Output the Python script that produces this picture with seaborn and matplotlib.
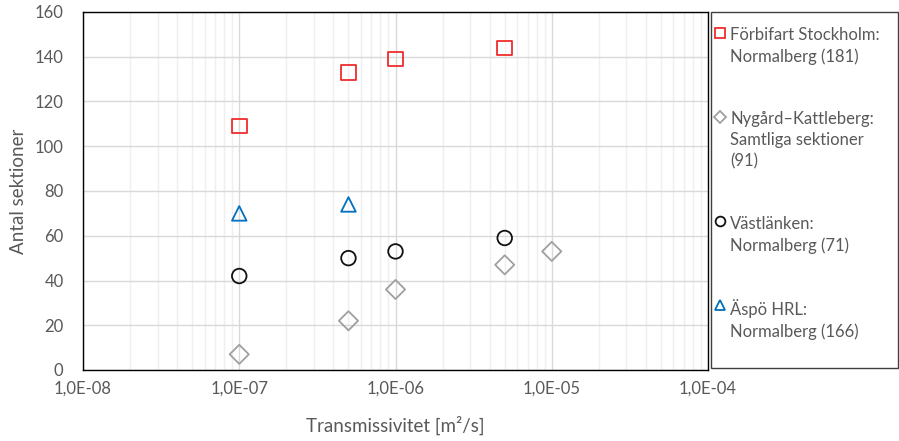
import numpy as np
import pandas as pd
import seaborn as sns
import matplotlib.pyplot as plt
from matplotlib.lines import Line2D
from matplotlib.patches import Rectangle
from matplotlib.ticker import FuncFormatter, LogLocator, MultipleLocator

# Data
forbifart_x = [1e-7, 5e-7, 1e-6, 5e-6]
forbifart_y = [109, 133, 139, 144]

nygard_x = [1e-7, 5e-7, 1e-6, 5e-6, 1e-5]
nygard_y = [7, 22, 36, 47, 53]

vastlanken_x = [1e-7, 5e-7, 1e-6, 5e-6]
vastlanken_y = [42, 50, 53, 59]

aspo_x = [1e-7, 5e-7]
aspo_y = [70, 74]

labels = [
    "Förbifart Stockholm:\nNormalberg (181)",
    "Nygård\u2013Kattleberg:\nSamtliga sektioner\n(91)",
    "Västlänken:\nNormalberg (71)",
    "Äspö HRL:\nNormalberg (166)",
]

series = [
    (forbifart_x, forbifart_y, "s", "#EE2D2D", 110),
    (nygard_x, nygard_y, "D", "#A0A0A0", 95),
    (vastlanken_x, vastlanken_y, "o", "#111111", 110),
    (aspo_x, aspo_y, "^", "#0070C0", 110),
]

sns.set_theme(style="white")
plt.rcParams["font.family"] = ["Lato", "DejaVu Sans"]
text_col = "#595959"

fig = plt.figure(figsize=(8.99, 4.41), dpi=100)
ax = fig.add_axes([83 / 899, 71 / 441, 625 / 899, 358 / 441])

for xs, ys, m, c, s in series:
    df = pd.DataFrame({"x": xs, "y": ys})
    sns.scatterplot(data=df, x="x", y="y", marker=m, s=s, facecolor="none",
                    edgecolor=c, linewidth=1.3, ax=ax, zorder=3)

ax.set_xscale("log")
ax.set_xlim(1e-8, 1e-4)
ax.set_ylim(0, 160)
ax.yaxis.set_major_locator(MultipleLocator(20))
ax.xaxis.set_major_locator(LogLocator(base=10, numticks=10))
ax.xaxis.set_minor_locator(LogLocator(base=10, subs=np.arange(2, 10), numticks=50))


def sci_fmt(v, pos):
    e = int(np.round(np.log10(v)))
    sign = "-" if e < 0 else "+"
    return f"1,0E{sign}{abs(e):02d}"


ax.xaxis.set_major_formatter(FuncFormatter(sci_fmt))

ax.grid(True, which="major", axis="both", color="#D9D9D9", linewidth=1.0, zorder=0)
ax.grid(True, which="minor", axis="x", color="#EFEFEF", linewidth=1.0, zorder=0)
ax.set_axisbelow(True)

for sp in ax.spines.values():
    sp.set_color("#000000")
    sp.set_linewidth(1.0)

ax.tick_params(axis="both", which="both", length=0, labelsize=12, colors=text_col)
ax.tick_params(axis="y", pad=14)
ax.tick_params(axis="x", pad=8)

ax.set_xlabel("Transmissivitet [m²/s]", fontsize=13.5, color=text_col)
ax.set_ylabel("Antal sektioner", fontsize=13.5, color=text_col)
ax.xaxis.set_label_coords(0.5, -0.128)
ax.yaxis.set_label_coords(-0.09, 0.5)

# legend box
fig.add_artist(Rectangle((711 / 899, 73 / 441), 187 / 899, 356 / 441,
                         transform=fig.transFigure, fill=False,
                         edgecolor="#404040", linewidth=1.0))

handles = [
    Line2D([], [], linestyle="none", marker=m, markersize=7 if m != "D" else 6,
           markerfacecolor="none", markeredgecolor=c, markeredgewidth=1.3)
    for _, _, m, c, _ in series
]
leg = fig.legend(handles, labels, loc="upper left", bbox_to_anchor=(701 / 899, 427 / 441),
                 frameon=False, fontsize=12, labelspacing=2.75, handlelength=0.65,
                 handletextpad=0.3, borderpad=0.3)
for t in leg.get_texts():
    t.set_color(text_col)
    t.set_linespacing(1.4)
for col in leg._legend_handle_box.get_children():
    for item in col.get_children():
        item.align = "top"

fig.savefig("out.png", dpi=100)
